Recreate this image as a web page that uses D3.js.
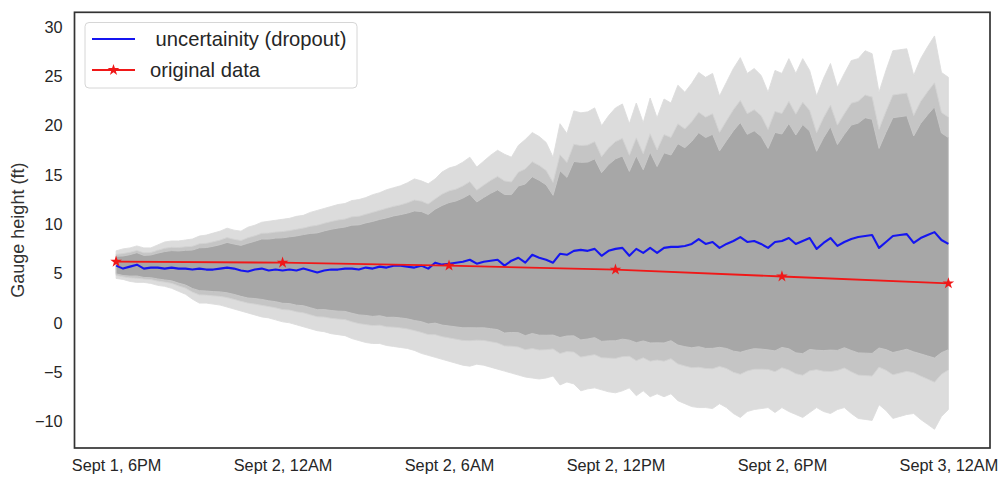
<!DOCTYPE html>
<html><head><meta charset="utf-8">
<script src="https://cdn.jsdelivr.net/npm/d3@7/dist/d3.min.js"></script>
<style>
body{margin:0;background:#fff;}
text{font-family:"Liberation Sans",Arial,Helvetica,sans-serif;}
</style>
</head><body>
<svg id="chart" width="999" height="477"></svg>
<script>
// ---------------- DATA ----------------
const startTime = "2019-09-01T18:00:00";
const stepMinutes = 15;

// mean prediction (MC dropout)
const meanPred = [
5.8,5.5,5.7,5.9,5.5,5.6,5.6,5.5,5.6,5.5,
5.5,5.4,5.5,5.4,5.4,5.5,5.6,5.5,5.3,5.2,
5.4,5.5,5.3,5.4,5.3,5.4,5.3,5.5,5.3,5.1,
5.3,5.4,5.4,5.5,5.5,5.4,5.6,5.5,5.7,5.6,
5.8,5.8,5.7,5.6,5.8,5.5,6.1,5.9,6.0,6.1,
6.2,6.4,6.0,6.2,6.3,6.4,5.8,6.3,6.6,6.1,
6.9,6.6,6.4,6.1,7.0,6.9,7.3,7.4,7.3,7.5,
6.8,7.3,7.5,7.6,6.8,7.5,7.1,7.6,7.1,7.6,
7.7,7.7,7.8,8.0,8.5,8.0,8.2,7.6,8.0,8.3,
8.7,8.2,8.3,8.0,7.6,8.2,8.3,8.6,8.0,8.3,
8.6,7.5,8.1,8.6,7.8,8.2,8.5,8.7,8.8,8.9,
7.6,8.2,8.8,8.9,9.0,8.1,8.6,8.9,9.2,8.4,
8.0];

// outermost (99%) band edges
const upper99 = [
7.3,7.5,7.6,7.8,7.6,7.6,7.9,8.2,8.3,8.3,
8.4,8.5,8.8,8.9,9.1,9.3,9.6,9.4,9.3,9.7,
9.9,10.2,10.3,10.4,10.5,10.6,10.8,10.9,11.2,11.4,
11.6,11.8,12.0,12.1,12.4,12.5,12.7,13.0,13.2,13.5,
13.7,13.9,14.2,14.6,14.4,14.1,14.6,15.3,15.7,15.9,
16.3,16.8,15.8,16.4,17.0,17.5,17.1,16.8,18.0,18.6,
19.3,18.9,18.3,16.8,20.2,19.2,21.5,21.3,21.4,21.8,
20.0,21.0,21.8,22.2,20.2,22.3,20.3,22.8,20.8,22.7,
22.3,24.1,23.4,24.3,25.4,24.9,25.3,23.0,24.4,25.8,
26.9,25.3,25.8,25.1,23.4,25.6,25.3,26.8,25.3,26.8,
25.6,23.0,24.8,26.3,23.9,25.3,26.6,26.8,27.6,27.3,
23.4,25.6,27.6,27.7,27.8,25.1,26.8,28.0,29.1,25.4,
24.9];

const lower99 = [
4.5,4.4,4.2,4.1,4.1,4.0,3.8,3.7,3.5,3.2,
2.9,2.4,2.0,2.0,1.9,1.8,1.6,1.4,1.2,1.0,
0.8,0.6,0.5,0.3,0.1,0.0,-0.2,-0.4,-0.6,-0.8,
-0.9,-1.1,-1.2,-1.3,-1.6,-1.8,-2.0,-2.1,-2.1,-2.3,
-2.4,-2.5,-2.6,-2.8,-3.1,-3.3,-3.5,-3.7,-3.9,-4.1,
-4.3,-4.4,-4.2,-4.3,-4.5,-4.7,-4.9,-5.1,-5.3,-5.5,
-5.6,-5.7,-5.6,-5.4,-6.3,-6.0,-6.2,-6.9,-6.7,-6.6,
-6.8,-7.0,-7.1,-6.9,-6.6,-7.4,-6.9,-7.5,-7.2,-7.5,
-7.2,-7.9,-8.2,-8.5,-8.6,-8.6,-8.7,-8.2,-8.6,-9.2,
-9.6,-9.0,-8.8,-8.7,-8.6,-9.1,-8.6,-9.0,-9.3,-9.6,
-9.1,-8.6,-9.0,-9.2,-8.8,-8.6,-9.2,-9.7,-9.8,-9.9,
-8.3,-8.9,-9.7,-9.5,-9.3,-9.2,-9.8,-10.3,-10.8,-9.5,
-8.8];

// interval z-levels: 99%, 95%, 90%
const bandLevels = [2.576, 1.960, 1.645];

// original observations
const origTimes = ["2019-09-01T18:00:00","2019-09-02T00:00:00","2019-09-02T06:00:00",
                   "2019-09-02T12:00:00","2019-09-02T18:00:00","2019-09-03T00:00:00"];
const origValues = [6.2, 6.1, 5.8, 5.4, 4.7, 4.0];

const xTickLabels = ["Sept 1, 6PM","Sept 2, 12AM","Sept 2, 6AM","Sept 2, 12PM","Sept 2, 6PM","Sept 3, 12AM"];
const yTicks = [-10,-5,0,5,10,15,20,25,30];

const legendLabels = [" uncertainity (dropout)", "original data"];
const yLabel = "Gauge height (ft)";

// ---------------- CHART ----------------
const svg = d3.select("#chart");
const frame = {left:74.5, right:990, top:12.3, bottom:448};

const t0 = new Date(startTime);
const predTimes = meanPred.map((_, i) => new Date(t0.getTime() + i*stepMinutes*60000));
const obsTimes = origTimes.map(s => new Date(s));
const tEnd = obsTimes[obsTimes.length-1];
const pad = 1.5*3600000;

const x = d3.scaleTime().domain([new Date(t0.getTime()-pad), new Date(tEnd.getTime()+pad)])
  .range([frame.left, frame.right]);
const y = d3.scaleLinear().domain([-12.7, 31.5]).range([frame.bottom, frame.top]);

const bandFill = ["#dcdcdc", "#c5c5c5", "#a7a7a7"];
const bandStroke = ["#dcdcdc", "#d2d2d2", "#c9c9c9"];

svg.append("defs").append("clipPath").attr("id","clip")
  .append("rect").attr("x",frame.left).attr("y",frame.top)
  .attr("width",frame.right-frame.left).attr("height",frame.bottom-frame.top);

const plot = svg.append("g").attr("clip-path","url(#clip)");

bandLevels.forEach((z, k) => {
  const f = z / bandLevels[0];
  const area = d3.area()
    .x((d,i) => x(predTimes[i]))
    .y0((d,i) => y(meanPred[i] - (meanPred[i]-lower99[i])*f))
    .y1((d,i) => y(meanPred[i] + (upper99[i]-meanPred[i])*f));
  plot.append("path").datum(meanPred)
    .attr("d", area)
    .attr("fill", bandFill[k])
    .attr("stroke", bandStroke[k])
    .attr("stroke-width", 0.9)
    .attr("stroke-linejoin","round");
});

const meanLine = d3.line().x((d,i)=>x(predTimes[i])).y(d=>y(d));
plot.append("path").datum(meanPred).attr("d", meanLine)
  .attr("fill","none").attr("stroke","#1515f0").attr("stroke-width",2.1).attr("stroke-linejoin","round");

const obsLine = d3.line().x((d,i)=>x(obsTimes[i])).y(d=>y(d));
svg.append("path").datum(origValues).attr("d", obsLine)
  .attr("fill","none").attr("stroke","#f01818").attr("stroke-width",1.8);
const star = d3.symbol().type(d3.symbolStar).size(42);
svg.selectAll(".star").data(origValues).join("path")
  .attr("class","star")
  .attr("d", star)
  .attr("transform",(d,i)=>`translate(${x(obsTimes[i])},${y(d)})`)
  .attr("fill","#f01818");

// axes
const yAxis = d3.axisLeft(y).tickValues(yTicks).tickSize(0).tickPadding(12)
  .tickFormat(d => d < 0 ? "\u2212" + Math.abs(d) : d);
const gy = svg.append("g").attr("transform",`translate(${frame.left},0)`).call(yAxis);
gy.select(".domain").remove();
gy.selectAll("text").attr("font-size","16.3px").attr("fill","#262626")
  .style("font-family",'"Liberation Sans",Arial,sans-serif');

const xAxis = d3.axisBottom(x).tickValues(obsTimes).tickSize(0).tickPadding(11)
  .tickFormat((d,i) => xTickLabels[i]);
const gx = svg.append("g").attr("transform",`translate(0,${frame.bottom})`).call(xAxis);
gx.select(".domain").remove();
gx.selectAll("text").attr("font-size","16.3px").attr("fill","#262626")
  .style("font-family",'"Liberation Sans",Arial,sans-serif');

// frame
svg.append("rect").attr("x",frame.left).attr("y",frame.top)
  .attr("width",frame.right-frame.left).attr("height",frame.bottom-frame.top)
  .attr("fill","none").attr("stroke","#333").attr("stroke-width",1.7);

// y label
svg.append("text").attr("transform",`translate(24,${(frame.top+frame.bottom)/2}) rotate(-90)`)
  .attr("text-anchor","middle").attr("font-size","18px").attr("fill","#333")
  .text(yLabel);

// legend
const lg = svg.append("g");
lg.append("rect").attr("x",85).attr("y",22.5).attr("width",272).attr("height",65.5)
  .attr("rx",4).attr("fill","#fff").attr("fill-opacity",0.85).attr("stroke","#d6d6d6").attr("stroke-width",1);
lg.append("line").attr("x1",92).attr("x2",135).attr("y1",39).attr("y2",39)
  .attr("stroke","#1515f0").attr("stroke-width",2.1);
lg.append("line").attr("x1",92).attr("x2",135).attr("y1",70).attr("y2",70)
  .attr("stroke","#f01818").attr("stroke-width",1.8);
lg.append("path").attr("d",star).attr("transform","translate(113.5,70)").attr("fill","#f01818");
lg.append("text").attr("x",150).attr("y",39).attr("dy","0.35em").attr("font-size","20.2px")
  .attr("fill","#262626").style("white-space","pre").text(legendLabels[0]);
lg.append("text").attr("x",150).attr("y",70).attr("dy","0.35em").attr("font-size","20.2px")
  .attr("fill","#262626").style("white-space","pre").text(legendLabels[1]);
</script>
</body></html>
